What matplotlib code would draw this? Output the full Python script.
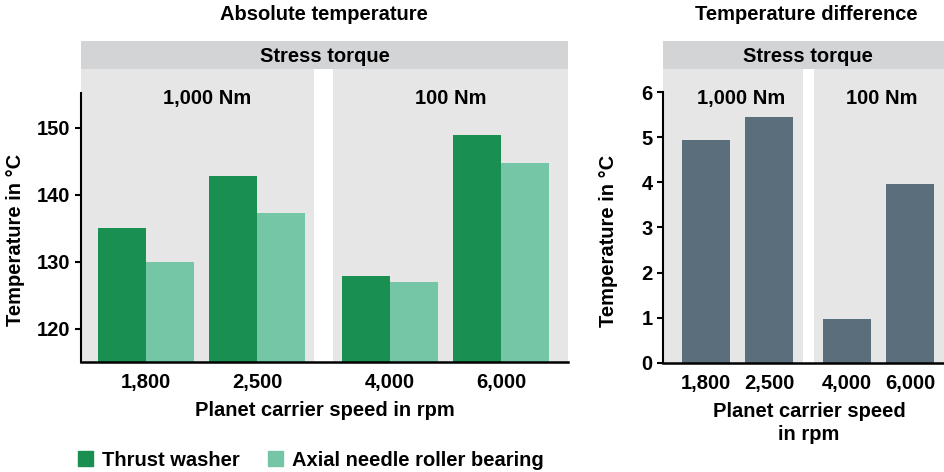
import matplotlib
matplotlib.use('Agg')
import matplotlib.pyplot as plt
from matplotlib.patches import Patch
import numpy as np

plt.rcParams['font.family'] = ['Liberation Sans', 'DejaVu Sans']
plt.rcParams['font.weight'] = 'bold'
plt.rcParams['font.size'] = 14.5

# data
speeds = ['1,800', '2,500', '4,000', '6,000']
torques = ['1,000 Nm', '100 Nm']
thrust_washer = [135.0, 142.8, 127.9, 148.9]
axial_bearing = [129.9, 137.3, 126.9, 144.7]
temp_diff = [4.95, 5.45, 0.97, 3.97]

GREEN_DARK = '#1a8f52'
GREEN_LIGHT = '#74c6a6'
SLATE = '#5a6e7c'
PANEL = '#e6e6e6'
STRIP = '#d3d4d6'

W, H = 944, 472


def box(x0, y0, x1, y1):
    # pixel box (top-left origin) -> figure fraction rect
    return [x0 / W, 1 - y1 / H, (x1 - x0) / W, (y1 - y0) / H]


def positions(group_offset):
    # two speeds per torque group
    return np.array([i + g * group_offset for g in range(len(torques)) for i in range(2)])


def setup_panel(ax, strip_ax, pos, xlim, gap, ylim, yticks, ybound):
    ax.set_facecolor('white')
    mid = (pos[1] + pos[2]) / 2
    spans = [(xlim[0], mid - gap / 2), (mid + gap / 2, xlim[1])]
    for (a, b), lab, p in zip(spans, torques, [pos[:2], pos[2:]]):
        ax.axvspan(a, b, color=PANEL, zorder=0, lw=0)
        ax.text(p.mean() + 0.05, 0.9, lab, transform=ax.get_xaxis_transform(),
                ha='center', va='center')
    ax.set_xlim(*xlim)
    ax.set_ylim(*ylim)
    ax.set_yticks(yticks)
    ax.set_xticks(pos)
    ax.set_xticklabels(speeds)
    ax.tick_params(axis='x', length=0, pad=8)
    ax.tick_params(axis='y', length=4.5, width=1.5, pad=3)
    for s in ['top', 'right']:
        ax.spines[s].set_visible(False)
    ax.spines['left'].set_bounds(*ybound)
    ax.spines['left'].set_linewidth(1.5)
    ax.spines['bottom'].set_linewidth(1.8)

    strip_ax.set_facecolor(STRIP)
    strip_ax.set_xticks([])
    strip_ax.set_yticks([])
    for s in strip_ax.spines.values():
        s.set_visible(False)


fig = plt.figure(figsize=(9.44, 4.72), dpi=100)

# left panel: absolute temperature
ax1 = fig.add_axes(box(81, 69, 568, 362))
st1 = fig.add_axes(box(81, 41, 568, 69))
pos1 = positions(2.19)
w1 = 0.43
ax1.bar(pos1 - w1 / 2, np.array(thrust_washer) - 115, w1, bottom=115, color=GREEN_DARK, zorder=2)
ax1.bar(pos1 + w1 / 2, np.array(axial_bearing) - 115, w1, bottom=115, color=GREEN_LIGHT, zorder=2)
setup_panel(ax1, st1, pos1, (-0.58, 3.79), 0.17, (115, 158.75), [120, 130, 140, 150], (115, 155.2))

# right panel: temperature difference
ax2 = fig.add_axes(box(663, 69, 953, 362.7))
st2 = fig.add_axes(box(663, 41, 953, 69))
pos2 = positions(2.24)
ax2.bar(pos2, temp_diff, 0.76, color=SLATE, zorder=2)
setup_panel(ax2, st2, pos2, (-0.683, 3.92), 0.175, (0, 6.517), range(7), (0, 6))

# titles, strips, axis labels
fig.text(324 / W, 1 - 15 / H, 'Absolute temperature', ha='center', va='center')
fig.text(806 / W, 1 - 15 / H, 'Temperature difference', ha='center', va='center')
fig.text(324.5 / W, 1 - 56 / H, 'Stress torque', ha='center', va='center')
fig.text(808 / W, 1 - 56 / H, 'Stress torque', ha='center', va='center')
fig.text(15.5 / W, 1 - 240 / H, 'Temperature in °C', rotation=90, ha='center', va='center')
fig.text(608 / W, 1 - 241 / H, 'Temperature in °C', rotation=90, ha='center', va='center')
fig.text(324.5 / W, 1 - 411 / H, 'Planet carrier speed in rpm', ha='center', va='center')
fig.text(809 / W, 1 - 423 / H, 'Planet carrier speed\nin rpm', ha='center', va='center',
         linespacing=1.25)

handles = [Patch(color=GREEN_DARK, label='Thrust washer'),
           Patch(color=GREEN_LIGHT, label='Axial needle roller bearing')]
fig.legend(handles=handles, loc='center left', bbox_to_anchor=(78 / W, 1 - 460 / H),
           bbox_transform=fig.transFigure, ncol=2, frameon=False, borderpad=0,
           borderaxespad=0, handlelength=0.75, handleheight=0.75, handletextpad=0.45,
           columnspacing=1.4)

fig.savefig('out.png', dpi=100)
